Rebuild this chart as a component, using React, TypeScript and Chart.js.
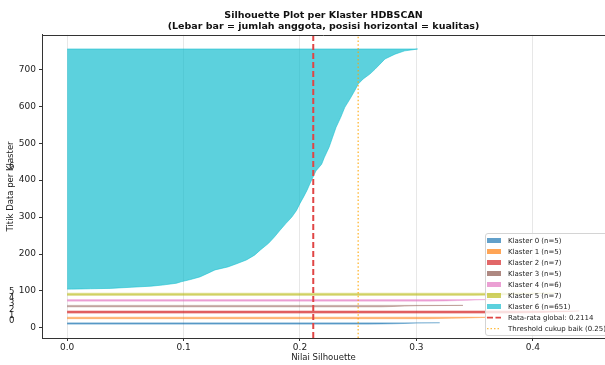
import React, { useEffect, useRef } from 'react';
import { Chart, registerables } from 'chart.js';

Chart.register(...registerables);

const FONT = "'DejaVu Sans', 'Liberation Sans', sans-serif";

// ---------- data ----------
const clusterNames = ['Klaster 0', 'Klaster 1', 'Klaster 2', 'Klaster 3', 'Klaster 4', 'Klaster 5', 'Klaster 6'];
const clusterSizes = [5, 5, 7, 5, 6, 7, 651];
const clusterColors = ['#1f77b4', '#ff7f0e', '#d62728', '#8c564b', '#e377c2', '#bcbd22', '#17becf'];

// sorted silhouette values of the small clusters
const silKlaster0 = [0.26, 0.28, 0.29, 0.3, 0.32];
const silKlaster1 = [0.31, 0.33, 0.345, 0.355, 0.365];
const silKlaster2 = [0.38, 0.4, 0.41, 0.42, 0.43, 0.435, 0.44];
const silKlaster3 = [0.27, 0.28, 0.29, 0.3, 0.34];
const silKlaster4 = [0.31, 0.325, 0.335, 0.345, 0.355, 0.365];
const silKlaster5 = [0.35, 0.37, 0.38, 0.39, 0.4, 0.41, 0.42];

// Klaster 6 (n=651): rank inside the cluster and sorted silhouette value
const klaster6Rank = [0, 1, 2, 5, 8, 11, 16, 20, 26, 33, 43, 52, 60, 68, 79, 92, 106, 124, 141, 160, 178, 195, 213, 232, 249, 267, 285, 302, 320, 338, 357, 384, 411, 438, 465, 492, 515, 537, 555, 569, 582, 595, 609, 623, 636, 645, 648, 650];
const klaster6Sil = [0.004, 0.02, 0.037, 0.055, 0.072, 0.082, 0.094, 0.098, 0.106, 0.114, 0.121, 0.127, 0.138, 0.145, 0.154, 0.161, 0.166, 0.173, 0.178, 0.183, 0.188, 0.193, 0.197, 0.2, 0.203, 0.206, 0.2085, 0.211, 0.2137, 0.2186, 0.221, 0.225, 0.228, 0.231, 0.235, 0.2385, 0.243, 0.247, 0.25, 0.2543, 0.26, 0.2644, 0.2687, 0.273, 0.2816, 0.29, 0.297, 0.301];

const globalMean = 0.2114;
const thresholdGood = 0.25;

const titleLines = ['Silhouette Plot per Klaster HDBSCAN', '(Lebar bar = jumlah anggota, posisi horizontal = kualitas)'];
const xLabel = 'Nilai Silhouette';
const yLabel = 'Titik Data per Klaster';

const X_MIN = -0.0216;
const X_MAX = 0.462;
const Y_MIN = -27.3;
const Y_MAX = 793.3;

// ---------- helpers ----------
function rgba(hex: string, a: number) {
  const n = parseInt(hex.slice(1), 16);
  return `rgba(${(n >> 16) & 255},${(n >> 8) & 255},${n & 255},${a})`;
}

const smallSil = [silKlaster0, silKlaster1, silKlaster2, silKlaster3, silKlaster4, silKlaster5];

const yStarts: number[] = [];
{
  let yl = 10;
  clusterSizes.forEach((s) => {
    yStarts.push(yl);
    yl = yl + s + 10;
  });
}

function clusterPoints(k: number) {
  const start = yStarts[k];
  const pts: { x: number; y: number }[] = [];
  if (k < 6) {
    const vals = smallSil[k];
    pts.push({ x: 0, y: start });
    vals.forEach((v, i) => pts.push({ x: v, y: start + i }));
    pts.push({ x: 0, y: start + vals.length - 1 });
  } else {
    pts.push({ x: 0, y: start + klaster6Rank[0] });
    klaster6Rank.forEach((r, i) => pts.push({ x: klaster6Sil[i], y: start + r }));
    pts.push({ x: 0, y: start + klaster6Rank[klaster6Rank.length - 1] });
  }
  return pts;
}

const framePlugin = {
  id: 'frameAndClusterIds',
  afterDraw(chart: any) {
    const { ctx, chartArea, scales } = chart;
    ctx.save();
    ctx.strokeStyle = '#333';
    ctx.lineWidth = 1;
    ctx.beginPath();
    ctx.moveTo(chartArea.left, Math.round(chartArea.top) + 0.5);
    ctx.lineTo(chartArea.right, Math.round(chartArea.top) + 0.5);
    ctx.stroke();
    ctx.font = `8.5px ${FONT}`;
    ctx.fillStyle = '#222';
    ctx.textAlign = 'left';
    ctx.textBaseline = 'alphabetic';
    clusterSizes.forEach((s, k) => {
      ctx.fillText(String(k), scales.x.getPixelForValue(-0.05), scales.y.getPixelForValue(yStarts[k] + 0.5 * s));
    });
    ctx.restore();
  },
};

function LegendBox() {
  const rowTop = 240.7;
  const step = 11;
  const rows: React.ReactNode[] = [];
  clusterNames.forEach((name, k) => {
    const cy = rowTop + k * step;
    rows.push(
      <div key={'p' + k} style={{ position: 'absolute', left: 487, top: cy - 2.5, width: 14, height: 5, background: rgba(clusterColors[k], 0.7) }} />
    );
    rows.push(
      <div key={'t' + k} style={{ position: 'absolute', left: 508, top: cy - 5, height: 10, lineHeight: '10px', fontSize: 7, whiteSpace: 'nowrap', color: '#222' }}>
        {`${name} (n=${clusterSizes[k]})`}
      </div>
    );
  });
  const meanY = rowTop + 7 * step;
  const thrY = rowTop + 8 * step;
  return (
    <div style={{ position: 'absolute', left: 0, top: 0, width: 605, height: 365, pointerEvents: 'none', fontFamily: FONT }}>
      <div style={{ position: 'absolute', left: 485, top: 233, width: 140, height: 103, background: 'rgba(255,255,255,0.8)', border: '1px solid #d4d4d4', borderRadius: 3, boxSizing: 'border-box' }} />
      {rows}
      <svg style={{ position: 'absolute', left: 0, top: 0 }} width={605} height={365}>
        <line x1={487} x2={501} y1={meanY} y2={meanY} stroke="#e04545" strokeWidth={1.7} strokeDasharray="6 2.5" />
        <line x1={487} x2={501} y1={thrY} y2={thrY} stroke="rgba(255,165,0,0.75)" strokeWidth={1.3} strokeDasharray="1.5 2" />
      </svg>
      <div style={{ position: 'absolute', left: 508, top: meanY - 5, height: 10, lineHeight: '10px', fontSize: 7, whiteSpace: 'nowrap', color: '#222' }}>
        {`Rata-rata global: ${globalMean.toFixed(4)}`}
      </div>
      <div style={{ position: 'absolute', left: 508, top: thrY - 5, height: 10, lineHeight: '10px', fontSize: 7, whiteSpace: 'nowrap', color: '#222' }}>
        {`Threshold cukup baik (${thresholdGood})`}
      </div>
    </div>
  );
}

export default function App() {
  const ref = useRef<HTMLCanvasElement>(null);
  useEffect(() => {
    document.body.style.margin = '0';
    if (!ref.current) return;
    const datasets: any[] = clusterNames.map((name, k) => ({
      type: 'line',
      label: `${name} (n=${clusterSizes[k]})`,
      data: clusterPoints(k),
      borderColor: rgba(clusterColors[k], 0.7),
      backgroundColor: rgba(clusterColors[k], 0.7),
      borderWidth: k < 6 ? 0.5 : 0.8,
      pointRadius: 0,
      tension: 0,
      fill: { value: 0 },
      order: 2,
    }));
    datasets.push({
      type: 'line',
      label: `Rata-rata global: ${globalMean.toFixed(4)}`,
      data: [{ x: globalMean, y: Y_MIN }, { x: globalMean, y: Y_MAX }],
      borderColor: '#e04545',
      borderWidth: 2,
      borderDash: [6, 3],
      pointRadius: 0,
      fill: false,
      order: 0,
    });
    datasets.push({
      type: 'line',
      label: `Threshold cukup baik (${thresholdGood})`,
      data: [{ x: thresholdGood, y: Y_MIN }, { x: thresholdGood, y: Y_MAX }],
      borderColor: 'rgba(255,165,0,0.7)',
      borderWidth: 1.5,
      borderDash: [1.5, 2.2],
      pointRadius: 0,
      fill: false,
      order: 0,
    });

    const chart = new Chart(ref.current, {
      type: 'line',
      data: { datasets },
      options: {
        responsive: false,
        animation: false,
        devicePixelRatio: 1,
        indexAxis: 'y',
        layout: { padding: 0 },
        plugins: {
          legend: { display: false },
          tooltip: { enabled: false },
          title: {
            display: true,
            text: titleLines,
            fullSize: false,
            color: '#111',
            font: { family: FONT, size: 9.5, weight: 'bold', lineHeight: 1.15 },
            padding: { top: 10, bottom: 3 },
          },
        },
        scales: {
          x: {
            type: 'linear',
            min: X_MIN,
            max: X_MAX,
            z: 1,
            ticks: {
              stepSize: 0.1,
              includeBounds: false,
              color: '#222',
              padding: 1,
              font: { family: FONT, size: 9 },
              callback: (v: any) => Number(v).toFixed(1),
            },
            grid: { color: 'rgba(176,176,176,0.3)', tickColor: '#333', tickLength: 3, drawTicks: true },
            border: { display: true, color: '#333', width: 1 },
            title: { display: true, text: xLabel, color: '#222', font: { family: FONT, size: 8.5 }, padding: { top: 1, bottom: 2 } },
            afterFit: (s: any) => { s.height = 27; },
          },
          y: {
            type: 'linear',
            min: Y_MIN,
            max: Y_MAX,
            ticks: {
              stepSize: 100,
              includeBounds: false,
              color: '#222',
              padding: 3,
              font: { family: FONT, size: 9 },
            },
            grid: { drawOnChartArea: false, drawTicks: true, tickLength: 3, tickColor: '#333' },
            border: { display: true, color: '#333', width: 1 },
            title: { display: true, text: yLabel, color: '#222', font: { family: FONT, size: 8.5 }, padding: { top: 6, bottom: 0 } },
            afterFit: (s: any) => { s.width = 42; },
          },
        },
      } as any,
      plugins: [framePlugin],
    });
    return () => chart.destroy();
  }, []);

  return (
    <div style={{ position: 'relative', width: 605, height: 365, overflow: 'hidden', fontFamily: FONT }}>
      <canvas ref={ref} width={605} height={365} style={{ display: 'block', width: 605, height: 365 }} />
      <LegendBox />
    </div>
  );
}
